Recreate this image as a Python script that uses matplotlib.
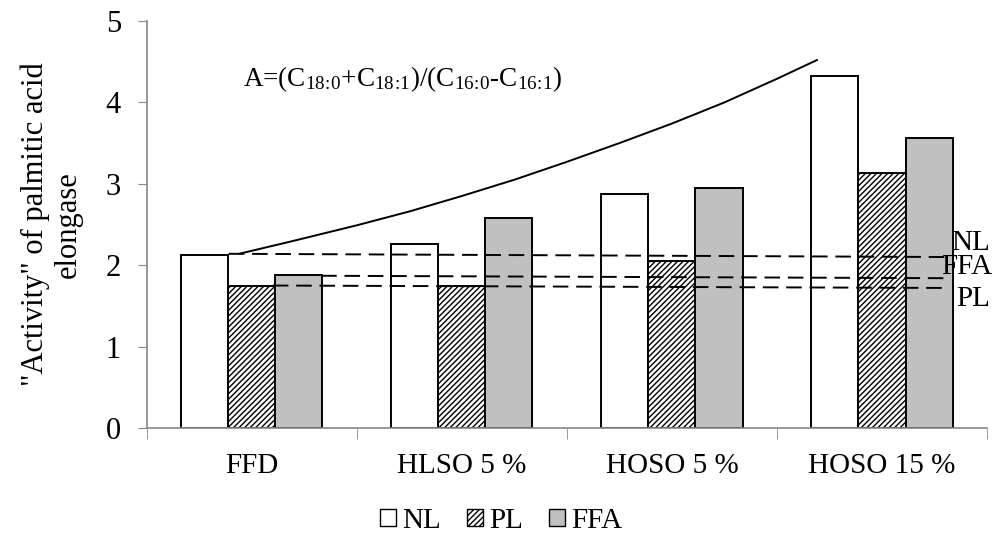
import matplotlib
matplotlib.use("Agg")
import numpy as np
from matplotlib import pyplot as plt
from matplotlib.patches import Patch

plt.rcParams["font.family"] = ["Liberation Serif", "DejaVu Serif"]
plt.rcParams["mathtext.default"] = "regular"
plt.rcParams["hatch.linewidth"] = 1.0

# data
categories = ["FFD", "HLSO 5 %", "HOSO 5 %", "HOSO 15 %"]
series = ["NL", "PL", "FFA"]
nl = [2.13, 2.26, 2.88, 4.33]
pl = [1.75, 1.74, 2.05, 3.13]
ffa = [1.88, 2.58, 2.95, 3.56]

# dashed trend lines: (x start, x end) in category units, (y start, y end)
trend_x = {"NL": [-0.11, 3.32], "FFA": [0.33, 3.32], "PL": [0.10, 3.32]}
trend_y = {"NL": [2.14, 2.10], "FFA": [1.87, 1.84], "PL": [1.75, 1.72]}

# solid curve
curve_x = [-0.06, 0.2, 0.5, 0.75, 1.0, 1.25, 1.5, 1.75, 2.0, 2.25, 2.5, 2.69]
curve_y = [2.14, 2.30, 2.49, 2.66, 2.85, 3.05, 3.27, 3.50, 3.74, 4.00, 4.29, 4.52]

fs = 21

fig = plt.figure(figsize=(9.92, 5.38), dpi=100)
ax = fig.add_axes([0.148, 0.2045, 0.847, 0.7565])

x = np.arange(len(categories))
w = 0.224
edge = dict(edgecolor="black", linewidth=1.4)
ax.bar(x - w, nl, w, color="white", **edge, zorder=2)
ax.bar(x, pl, w, color="white", hatch="//////", **edge, zorder=2)
ax.bar(x + w, ffa, w, color="#c0c0c0", **edge, zorder=2)

for name in ["NL", "FFA", "PL"]:
    ax.plot(trend_x[name], trend_y[name], color="black", lw=1.4,
            dashes=(8, 4), zorder=3)
ax.plot(curve_x, curve_y, color="black", lw=1.4, zorder=3)

ax.text(3.515, 2.27, "NL", fontsize=fs, ha="right", va="center", clip_on=False)
ax.text(3.525, 1.98, "FFA", fontsize=fs, ha="right", va="center", clip_on=False)
ax.text(3.515, 1.58, "PL", fontsize=fs, ha="right", va="center", clip_on=False)

ax.text(-0.04, 4.28,
        r"A=(C$_{18\!:\!0}$+C$_{18\!:\!1}$)/(C$_{16\!:\!0}$-C$_{16\!:\!1}$)",
        fontsize=19.5, ha="left", va="center")

ax.set_xlim(-0.5, 3.5)
ax.set_ylim(0, 5)
ax.set_yticks(range(6))
ax.set_xticks(x)
ax.set_xticklabels(categories)
ax.set_xticks(np.arange(-0.5, 4, 1), minor=True)
ax.tick_params(axis="x", which="major", length=0, pad=18, labelsize=fs)
ax.tick_params(axis="x", which="minor", length=8, color="#888888")
ax.tick_params(axis="y", length=6.5, color="#888888", pad=12, labelsize=22)

for side in ["top", "right"]:
    ax.spines[side].set_visible(False)
for side in ["left", "bottom"]:
    ax.spines[side].set_color("#888888")
    ax.spines[side].set_linewidth(1.2)

ax.set_ylabel('"Activity" of palmitic acid\nelongase', fontsize=22,
              linespacing=1.15, labelpad=17)

handles = [
    Patch(facecolor="white", edgecolor="black", label="NL"),
    Patch(facecolor="white", edgecolor="black", hatch="//////", label="PL"),
    Patch(facecolor="#c0c0c0", edgecolor="black", label="FFA"),
]
fig.legend(handles=handles, loc="center", bbox_to_anchor=(0.505, 0.032),
           ncol=3, frameon=False, fontsize=fs, handlelength=0.55,
           handleheight=0.55, handletextpad=0.2, columnspacing=0.9)

fig.savefig("out.png", dpi=100)
